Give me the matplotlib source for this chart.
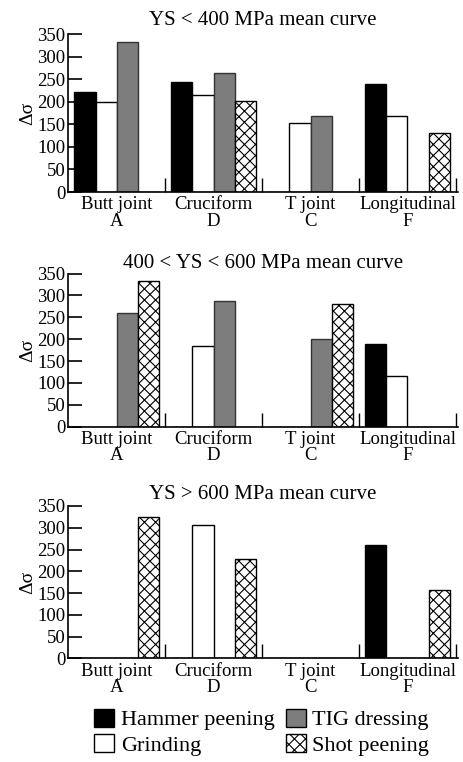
import numpy as np
import matplotlib
matplotlib.use('Agg')
import matplotlib.pyplot as plt
from matplotlib.patches import Patch

plt.rcParams['font.family'] = ['Liberation Serif', 'DejaVu Serif']
plt.rcParams['hatch.linewidth'] = 0.8

joints = ['Butt joint\nA', 'Cruciform\nD', 'T joint\nC', 'Longitudinal\nF']
methods = ['Hammer peening', 'Grinding', 'TIG dressing', 'Shot peening']
titles = ['YS < 400 MPa mean curve',
          '400 < YS < 600 MPa mean curve',
          'YS > 600 MPa mean curve']

# values per panel, one list per method (A, D, C, F)
low_hammer = [221, 244, 0, 240]
low_grinding = [200, 216, 154, 168]
low_tig = [332, 265, 169, 0]
low_shot = [0, 203, 0, 131]

mid_hammer = [0, 0, 0, 190]
mid_grinding = [0, 185, 0, 117]
mid_tig = [259, 288, 200, 0]
mid_shot = [332, 0, 280, 0]

high_hammer = [0, 0, 0, 260]
high_grinding = [0, 306, 0, 0]
high_tig = [0, 0, 0, 0]
high_shot = [325, 228, 0, 157]

panels = [
    [low_hammer, low_grinding, low_tig, low_shot],
    [mid_hammer, mid_grinding, mid_tig, mid_shot],
    [high_hammer, high_grinding, high_tig, high_shot],
]

styles = [
    dict(facecolor='black', edgecolor='black', hatch=None),
    dict(facecolor='white', edgecolor='black', hatch=None),
    dict(facecolor='#7d7d7d', edgecolor='#333333', hatch=None),
    dict(facecolor='white', edgecolor='black', hatch='xxx'),
]

fig = plt.figure(figsize=(4.63, 7.62), dpi=100)
boxes = [[0.147, 0.748, 0.842, 0.207],
         [0.147, 0.440, 0.842, 0.201],
         [0.147, 0.136, 0.842, 0.200]]
title_pads = [7, 4, 5]

x = np.arange(len(joints))
w = 0.217

for box, title, data, tp in zip(boxes, titles, panels, title_pads):
    ax = fig.add_axes(box)
    for j, vals in enumerate(data):
        st = styles[j]
        ax.bar(x + (j - 1.5) * w, vals, width=w, facecolor=st['facecolor'],
               edgecolor=st['edgecolor'], hatch=st['hatch'], linewidth=1.0)
    ax.set_xlim(-0.5, 3.52)
    ax.set_ylim(0, 350)
    ax.set_yticks(range(0, 351, 50))
    ax.set_xticks(x)
    ax.set_xticklabels(joints, fontsize=13.5, linespacing=0.95)
    ax.set_xticks(x + 0.5, minor=True)
    ax.tick_params(axis='x', which='major', length=0, pad=3)
    ax.tick_params(axis='x', which='minor', direction='in', length=10, width=1)
    ax.tick_params(axis='y', direction='in', length=10, width=1.2, labelsize=13.5, pad=2)
    for s in ['top', 'right']:
        ax.spines[s].set_visible(False)
    ax.spines['left'].set_linewidth(1.2)
    ax.spines['bottom'].set_linewidth(1.2)
    ax.set_ylabel('Δσ', fontsize=14, labelpad=1)
    ax.set_title(title, fontsize=15, pad=tp)

handles = [Patch(facecolor=st['facecolor'], edgecolor='black', hatch=st['hatch'])
           for st in styles]
fig.legend(handles, methods,
           loc='lower center', bbox_to_anchor=(0.565, -0.018), ncol=2,
           frameon=False, fontsize=16, handlelength=0.9, handleheight=0.9,
           handletextpad=0.3, columnspacing=0.5, labelspacing=0.15)

fig.savefig('out.png', dpi=100)
